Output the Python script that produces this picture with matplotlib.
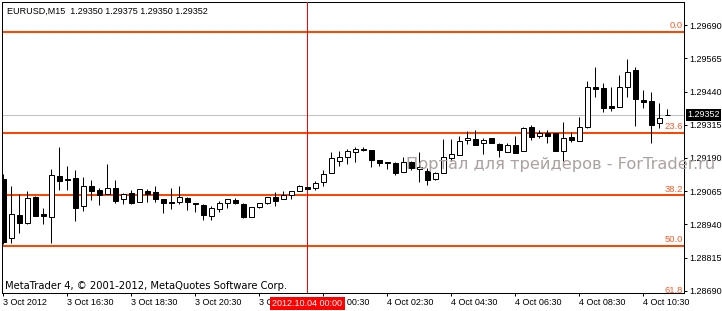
import matplotlib
matplotlib.use("Agg")
import matplotlib.pyplot as plt
from matplotlib.patches import Rectangle

# ---- data (EURUSD M15, 3 Oct 2012 14:30 onward) ----
opens = [1.29111, 1.28889, 1.28976, 1.28946, 1.29043, 1.28980, 1.28968, 1.29122, 1.29111, 1.29115,
         1.29010, 1.29085, 1.29070, 1.29055, 1.29077, 1.29036, 1.29058, 1.29025, 1.29066, 1.29062,
         1.29036, 1.29025, 1.29025, 1.29040, 1.29021, 1.29013, 1.28972, 1.28998, 1.29021, 1.29032,
         1.29017, 1.28968, 1.29006, 1.29021, 1.29043, 1.29036, 1.29051, 1.29066, 1.29079, 1.29077,
         1.29100, 1.29134, 1.29179, 1.29194, 1.29213, 1.29224, 1.29220, 1.29183, 1.29175, 1.29171,
         1.29137, 1.29175, 1.29149, 1.29141, 1.29111, 1.29134, 1.29190, 1.29201, 1.29258, 1.29262,
         1.29247, 1.29265, 1.29243, 1.29213, 1.29239, 1.29216, 1.29307, 1.29273, 1.29284, 1.29284,
         1.29216, 1.29269, 1.29254, 1.29307, 1.29457, 1.29453, 1.29386, 1.29382, 1.29457, 1.29521,
         1.29408, 1.29404, 1.29322, 1.29350]
highs = [1.29130, 1.29085, 1.29055, 1.29066, 1.29047, 1.29002, 1.29149, 1.29231, 1.29160, 1.29145,
         1.29119, 1.29107, 1.29077, 1.29168, 1.29107, 1.29058, 1.29070, 1.29074, 1.29074, 1.29085,
         1.29036, 1.29077, 1.29085, 1.29043, 1.29021, 1.29017, 1.29010, 1.29028, 1.29036, 1.29040,
         1.29021, 1.29006, 1.29021, 1.29043, 1.29062, 1.29066, 1.29066, 1.29089, 1.29081, 1.29104,
         1.29145, 1.29213, 1.29216, 1.29224, 1.29231, 1.29231, 1.29220, 1.29183, 1.29175, 1.29175,
         1.29194, 1.29179, 1.29213, 1.29152, 1.29137, 1.29262, 1.29262, 1.29273, 1.29292, 1.29295,
         1.29265, 1.29265, 1.29247, 1.29247, 1.29273, 1.29307, 1.29314, 1.29295, 1.29295, 1.29284,
         1.29325, 1.29288, 1.29344, 1.29480, 1.29532, 1.29472, 1.29457, 1.29502, 1.29562, 1.29532,
         1.29446, 1.29438, 1.29397, 1.29375]
lows = [1.28867, 1.28870, 1.28908, 1.28942, 1.28972, 1.28942, 1.28870, 1.29070, 1.29070, 1.28953,
        1.28991, 1.29032, 1.29013, 1.29055, 1.29021, 1.29017, 1.29017, 1.29025, 1.29025, 1.29025,
        1.28983, 1.28998, 1.29017, 1.28995, 1.28987, 1.28957, 1.28957, 1.28987, 1.29002, 1.29017,
        1.28965, 1.28968, 1.29002, 1.29017, 1.29010, 1.29036, 1.29036, 1.29066, 1.29074, 1.29070,
        1.29085, 1.29134, 1.29160, 1.29168, 1.29175, 1.29216, 1.29156, 1.29160, 1.29149, 1.29126,
        1.29137, 1.29145, 1.29100, 1.29089, 1.29107, 1.29134, 1.29179, 1.29201, 1.29243, 1.29239,
        1.29205, 1.29247, 1.29194, 1.29213, 1.29209, 1.29216, 1.29258, 1.29265, 1.29247, 1.29216,
        1.29179, 1.29250, 1.29254, 1.29303, 1.29419, 1.29363, 1.29367, 1.29382, 1.29419, 1.29310,
        1.29378, 1.29247, 1.29303, 1.29350]
closes = [1.28874, 1.28980, 1.28946, 1.29040, 1.28972, 1.28972, 1.29126, 1.29104, 1.29107, 1.29002,
          1.29085, 1.29066, 1.29051, 1.29077, 1.29028, 1.29055, 1.29021, 1.29074, 1.29055, 1.29036,
          1.29021, 1.29021, 1.29043, 1.29025, 1.29017, 1.28976, 1.29002, 1.29021, 1.29036, 1.29021,
          1.28968, 1.29006, 1.29021, 1.29043, 1.29028, 1.29051, 1.29066, 1.29085, 1.29075, 1.29096,
          1.29130, 1.29190, 1.29194, 1.29216, 1.29224, 1.29220, 1.29183, 1.29171, 1.29171, 1.29134,
          1.29175, 1.29152, 1.29156, 1.29107, 1.29134, 1.29194, 1.29205, 1.29254, 1.29265, 1.29239,
          1.29258, 1.29247, 1.29220, 1.29239, 1.29209, 1.29303, 1.29269, 1.29284, 1.29273, 1.29216,
          1.29265, 1.29258, 1.29307, 1.29457, 1.29451, 1.29378, 1.29378, 1.29457, 1.29513, 1.29412,
          1.29401, 1.29314, 1.29340, 1.29352]

time_tick_index = [0, 8, 16, 24, 32, 40, 48, 56, 64, 72, 80]
time_tick_labels = ["3 Oct 2012", "3 Oct 16:30", "3 Oct 18:30", "3 Oct 20:30", "3 Oct 22:30",
                    "4 Oct 00:30", "4 Oct 02:30", "4 Oct 04:30", "4 Oct 06:30", "4 Oct 08:30",
                    "4 Oct 10:30"]
price_ticks = [1.28690, 1.28815, 1.28940, 1.29065, 1.29190, 1.29315, 1.29440, 1.29565, 1.29690]

fib_levels = [0.0, 23.6, 38.2, 50.0, 61.8]
fib_level_labels = ["0.0", "23.6", "38.2", "50.0", "61.8"]
fib_high = 1.29664
fib_low = 1.28055

bid_price = 1.29352
cursor_index = 38
cursor_label = "2012.10.04 00:00"
header_text = "EURUSD,M15  1.29350 1.29375 1.29350 1.29352"
copyright_text = "MetaTrader 4, \u00a9 2001-2012, MetaQuotes Software Corp."
watermark_text = "Портал для трейдеров - ForTrader.ru"

# ---- figure ----
W, H = 722, 311
fig = plt.figure(figsize=(W / 100, H / 100), dpi=100)
fig.patch.set_facecolor("white")
ax = fig.add_axes([2 / W, 18 / H, 682 / W, 291 / H])
ax.set_facecolor("white")

PX = 0.72  # one pixel in points
tick_font = dict(family="Liberation Sans", size=6.5)

ax.set_xlim(-0.16, 85.09)
ax.set_ylim(1.28682, 1.29777)

# fibonacci lines
fib_color = "#FF4500"
for lvl, lab in zip(fib_levels, fib_level_labels):
    price = fib_high - (fib_high - fib_low) * lvl / 100.0
    ax.axhline(price, color=fib_color, lw=2 * PX, zorder=2)
    ax.annotate(lab, xy=(1, price), xycoords=("axes fraction", "data"),
                xytext=(-1, 1.2), textcoords="offset points", ha="right", va="bottom",
                color="#FF5A2A", fontfamily="Liberation Sans", fontsize=6.8,
                annotation_clip=False, zorder=6)

# bid line
ax.axhline(bid_price, color="#C0C0C0", lw=PX, zorder=1)

# crosshair vertical line
ax.axvline(cursor_index, color="#FF0000", lw=PX, zorder=3)

# candles
body_w = 0.56
for i, (o, h, l, c) in enumerate(zip(opens, highs, lows, closes)):
    ax.vlines(i, l, h, color="black", lw=PX, zorder=4)
    bottom = min(o, c)
    height = max(abs(c - o), 0.000004)
    fc = "white" if c >= o else "black"
    ax.add_patch(Rectangle((i - body_w / 2, bottom), body_w, height,
                           facecolor=fc, edgecolor="black", lw=PX, zorder=5))

# axes styling
for s in ax.spines.values():
    s.set_color("black")
    s.set_linewidth(PX)
ax.yaxis.tick_right()
ax.set_yticks(price_ticks)
ax.set_yticklabels(["%.5f" % p for p in price_ticks], **tick_font)
ax.set_xticks(time_tick_index)
ax.set_xticklabels(time_tick_labels, **tick_font)
for t in ax.get_xticklabels():
    t.set_horizontalalignment("left")
ax.tick_params(axis="both", direction="out", length=3 * PX, width=PX, colors="black")
ax.tick_params(axis="x", pad=1.5)
ax.tick_params(axis="y", pad=1.5)

# bid label
ax.annotate("%.5f" % bid_price, xy=(1, bid_price), xycoords=("axes fraction", "data"),
            xytext=(2.2, 0), textcoords="offset points", ha="left", va="center",
            color="white", fontfamily="Liberation Sans", fontsize=6.5,
            bbox=dict(boxstyle="square,pad=0.15", fc="black", ec="none"),
            annotation_clip=False, zorder=10)

# cursor time label
ax.annotate(cursor_label, xy=(cursor_index, 0), xycoords=("data", "axes fraction"),
            xytext=(0, -7.7), textcoords="offset points", ha="center", va="center",
            color="white", fontfamily="Liberation Sans", fontsize=6.5,
            bbox=dict(boxstyle="square,pad=0.25", fc="#FF0000", ec="none"),
            annotation_clip=False, zorder=10)

# texts
fig.text(7 / W, 1 - 11 / H, header_text, ha="left", va="center",
         fontfamily="Liberation Sans", fontsize=6.5, color="black")
fig.text(5 / W, 1 - 286 / H, copyright_text, ha="left", va="center",
         fontfamily="DejaVu Sans", fontsize=7.2, color="black")
fig.text(406 / W, 1 - 165 / H, watermark_text, ha="left", va="center",
         fontfamily="DejaVu Sans", fontsize=11.7, color="#ADA0A0", zorder=20)

fig.savefig("out.png", dpi=100)
